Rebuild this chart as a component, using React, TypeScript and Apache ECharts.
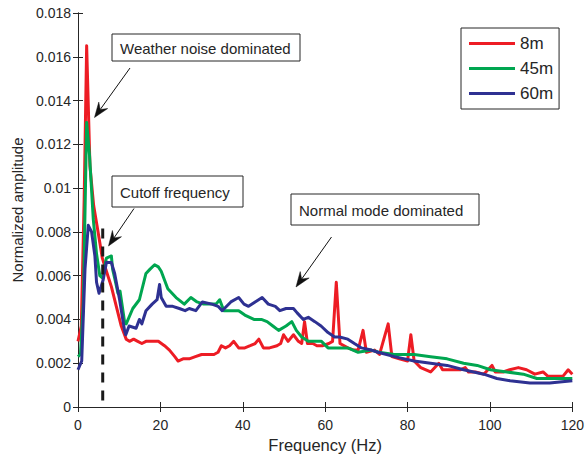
import React, { useEffect, useRef } from "react";
import * as echarts from "echarts";

const FONT = "'Liberation Sans', Arial, Helvetica, sans-serif";
const TEXT = "#262626";

const seriesNames = ["8m", "45m", "60m"];
const seriesColors = ["#ED1C24", "#00A650", "#2E3192"];

const xTicks = { min: 0, max: 120, interval: 20 };
const yTicks = { min: 0, max: 0.018, interval: 0.002 };

const cutoffFreq = 6;
const cutoffRange = [0.0003, 0.0083];

const amp8m: [number, number][] = [
  [0, 0.0030], [0.8, 0.0037], [1.5, 0.0095], [2.1, 0.0165], [2.9, 0.0110], [3.8, 0.0092],
  [4.6, 0.0083], [5.3, 0.0075], [5.9, 0.0068], [6.9, 0.0062], [8.1, 0.0055], [9.3, 0.0046],
  [10.5, 0.0037], [11.7, 0.0031], [12.5, 0.0030], [13.5, 0.0031], [14.5, 0.0030], [15.5, 0.0029],
  [16.5, 0.0030], [18, 0.0030], [19.5, 0.0030], [21, 0.0028], [22.2, 0.0026], [23.5, 0.0023],
  [24.3, 0.0021], [25.5, 0.0022], [27, 0.0022], [28.5, 0.0023], [30, 0.0024], [31.5, 0.0024],
  [33, 0.0024], [34, 0.0025], [34.8, 0.0028], [35.8, 0.0027], [36.8, 0.0028], [37.8, 0.0030],
  [39, 0.0027], [40.5, 0.0027], [41.8, 0.0028], [43, 0.0029], [43.9, 0.0031], [45, 0.0027],
  [46.5, 0.0027], [48.3, 0.0028], [49.2, 0.0029], [49.9, 0.0033], [51, 0.0030], [52.3, 0.0033],
  [53.5, 0.0030], [54.3, 0.0029], [55, 0.0039], [55.7, 0.0029], [57, 0.0029], [58, 0.0028],
  [59.3, 0.0028], [60.9, 0.0029], [61.8, 0.0030], [62.7, 0.0057], [63.6, 0.0029], [65.5, 0.0027],
  [67, 0.0026], [68, 0.0026], [69.2, 0.0035], [70, 0.0025], [72, 0.0026], [73.2, 0.0024],
  [74.4, 0.0032], [75.3, 0.0038], [76.2, 0.0023], [78, 0.0022], [80, 0.0021], [80.8, 0.0033],
  [81.6, 0.0021], [83.2, 0.0018], [85.6, 0.0016], [87.6, 0.0020], [88.5, 0.0017], [90, 0.0017],
  [92.8, 0.0017], [94, 0.0018], [94.8, 0.0016], [96.5, 0.0016], [98.5, 0.0015], [100.5, 0.0019],
  [101.3, 0.0016], [103.2, 0.0016], [104.8, 0.0017], [106.9, 0.0018], [108.9, 0.0017],
  [110.9, 0.0015], [112.9, 0.0016], [114.1, 0.0014], [116, 0.0014], [117.7, 0.0014],
  [119, 0.0017], [120, 0.0015],
];

const amp45m: [number, number][] = [
  [0, 0.0023], [0.6, 0.0024], [1.3, 0.0048], [2.1, 0.0130], [2.8, 0.0115], [3.7, 0.0086],
  [4.5, 0.0070], [5.3, 0.0060], [5.9, 0.0059], [6.9, 0.0068], [8.1, 0.0069], [8.4, 0.0063],
  [9.0, 0.0058], [9.7, 0.0052], [10.2, 0.0053], [11.3, 0.0039], [11.7, 0.0038], [13.3, 0.0045],
  [14.9, 0.0049], [16.5, 0.0061], [17.5, 0.0063], [18.6, 0.0065], [19.5, 0.0064], [20.2, 0.0062],
  [21.8, 0.0054], [23.8, 0.0050], [25.8, 0.0047], [27.4, 0.0050], [28.9, 0.0048], [30.5, 0.0047],
  [32, 0.0047], [33.5, 0.0047], [34.4, 0.0049], [35.4, 0.0044], [37, 0.0044], [39, 0.0044],
  [40.5, 0.0042], [42.7, 0.0040], [44.5, 0.0040], [45.9, 0.0039], [47.3, 0.0037], [48.7, 0.0035],
  [50.5, 0.0037], [51.9, 0.0039], [53, 0.0035], [54.3, 0.0032], [55.9, 0.0030], [57.5, 0.0030],
  [59.1, 0.0030], [60.7, 0.0027], [63, 0.0027], [65.5, 0.0027], [68, 0.0025], [71.2, 0.0026],
  [73, 0.0025], [76.8, 0.0024], [81.6, 0.0024], [85.6, 0.0023], [89.6, 0.0022], [93.6, 0.0020],
  [96.9, 0.0019], [100.1, 0.0017], [104.1, 0.0016], [108.1, 0.0015], [111.4, 0.0013],
  [115.4, 0.0013], [120, 0.0013],
];

const amp60m: [number, number][] = [
  [0, 0.0017], [0.9, 0.0021], [1.7, 0.0063], [2.5, 0.0083], [3.3, 0.0080], [4.1, 0.0069],
  [4.5, 0.0057], [5.1, 0.0052], [6.1, 0.0058], [6.9, 0.0066], [8.1, 0.0066], [8.9, 0.0061],
  [10.1, 0.0049], [11.3, 0.0035], [11.6, 0.0033], [12.4, 0.0037], [14.1, 0.0036], [14.9, 0.0040],
  [15.5, 0.0038], [16.5, 0.0044], [18, 0.0047], [19.2, 0.0049], [19.8, 0.0056], [20.2, 0.0050],
  [21.4, 0.0046], [23, 0.0046], [24.6, 0.0045], [26, 0.0044], [27, 0.0045], [28.6, 0.0044],
  [30.2, 0.0048], [32.5, 0.0047], [34, 0.0046], [35, 0.0044], [37.1, 0.0048], [39, 0.0050],
  [40.3, 0.0047], [41.4, 0.0046], [43, 0.0048], [44.7, 0.0050], [46.2, 0.0047], [47.9, 0.0046],
  [49, 0.0044], [50.5, 0.0045], [52.3, 0.0045], [53.2, 0.0043], [54.7, 0.0040], [55.9, 0.0041],
  [57.5, 0.0039], [59, 0.0037], [60.7, 0.0034], [62.3, 0.0032], [63.5, 0.0032], [65.5, 0.0031],
  [67.1, 0.0029], [68.8, 0.0027], [71.2, 0.0026], [72.8, 0.0025], [76.8, 0.0023], [81.6, 0.0021],
  [85.6, 0.0020], [89.6, 0.0019], [93.6, 0.0017], [98.5, 0.0015], [101.7, 0.0013],
  [104.9, 0.0012], [109.7, 0.0011], [114.5, 0.0011], [120, 0.0012],
];

const seriesData = [amp8m, amp45m, amp60m];

const annotations = [
  { text: "Weather noise dominated", box: [112, 34, 188, 27], arrow: [130, 68, 94.5, 117.5] },
  { text: "Cutoff frequency", box: [112, 176, 131, 31], arrow: [134, 208.5, 108.5, 246] },
  { text: "Normal mode dominated", box: [291, 194, 188, 31], arrow: [331.5, 237, 296, 287] },
];

function arrowGraphics(x1: number, y1: number, x2: number, y2: number) {
  const dx = x2 - x1;
  const dy = y2 - y1;
  const len = Math.sqrt(dx * dx + dy * dy);
  const ux = dx / len;
  const uy = dy / len;
  const nx = -uy;
  const ny = ux;
  const L = 15;
  const W = 5.5;
  const bx = x2 - ux * L;
  const by = y2 - uy * L;
  const mx = x2 - ux * L * 0.65;
  const my = y2 - uy * L * 0.65;
  return [
    {
      type: "line",
      shape: { x1, y1, x2: mx, y2: my },
      style: { stroke: "#111", lineWidth: 1 },
      z: 100,
    },
    {
      type: "polygon",
      shape: {
        points: [
          [x2, y2],
          [bx + nx * W, by + ny * W],
          [mx, my],
          [bx - nx * W, by - ny * W],
        ],
      },
      style: { fill: "#111", stroke: "#111", lineWidth: 0.5 },
      z: 100,
    },
  ];
}

export default function App() {
  const ref = useRef<HTMLDivElement>(null);

  useEffect(() => {
    document.body.style.margin = "0";
    if (!ref.current) return;
    const chart = echarts.init(ref.current, null, { renderer: "svg" });

    const axisLineStyle = { show: true, lineStyle: { color: TEXT, width: 1 } };
    const tickStyle = { show: true, inside: true, length: 5, lineStyle: { color: TEXT, width: 1 } };

    const graphics: any[] = [];
    annotations.forEach((a) => {
      const [bx, by, bw, bh] = a.box;
      graphics.push({
        type: "rect",
        shape: { x: bx, y: by, width: bw, height: bh },
        style: { fill: "#fff", stroke: TEXT, lineWidth: 1 },
        z: 100,
      });
      graphics.push({
        type: "text",
        x: bx + 8,
        y: by + bh / 2 + 0.5,
        style: {
          text: a.text,
          fontSize: 15,
          fontFamily: FONT,
          fill: TEXT,
          verticalAlign: "middle",
          align: "left",
        },
        z: 101,
      });
      const [x1, y1, x2, y2] = a.arrow;
      graphics.push(...arrowGraphics(x1, y1, x2, y2));
    });

    const option: any = {
      animation: false,
      backgroundColor: "#fff",
      textStyle: { fontFamily: FONT },
      grid: { left: 78, right: 11, top: 13, bottom: 52, containLabel: false },
      legend: {
        data: seriesNames,
        orient: "vertical",
        align: "left",
        left: 461,
        top: 28,
        icon: "rect",
        itemWidth: 46,
        itemHeight: 3,
        itemGap: 8,
        padding: [7, 6, 7, 8],
        borderColor: TEXT,
        borderWidth: 1,
        backgroundColor: "#fff",
        textStyle: { fontSize: 17, color: TEXT, fontFamily: FONT },
      },
      xAxis: [
        {
          type: "value",
          ...xTicks,
          position: "bottom",
          name: "Frequency (Hz)",
          nameLocation: "middle",
          nameGap: 29,
          nameTextStyle: { fontSize: 16.5, color: TEXT, fontFamily: FONT },
          axisLine: axisLineStyle,
          axisTick: tickStyle,
          splitLine: { show: false },
          axisLabel: { fontSize: 14, color: TEXT, margin: 11, fontFamily: FONT },
        },
        {
          type: "value",
          ...xTicks,
          position: "top",
          axisLine: axisLineStyle,
          axisTick: tickStyle,
          splitLine: { show: false },
          axisLabel: { show: false },
        },
      ],
      yAxis: [
        {
          type: "value",
          ...yTicks,
          position: "left",
          name: "Normalized amplitude",
          nameLocation: "middle",
          nameGap: 53,
          nameRotate: 90,
          nameTextStyle: { fontSize: 15, color: TEXT, fontFamily: FONT },
          axisLine: axisLineStyle,
          axisTick: tickStyle,
          splitLine: { show: false },
          axisLabel: {
            fontSize: 14,
            color: TEXT,
            margin: 7,
            fontFamily: FONT,
            formatter: (v: number) => String(parseFloat(v.toFixed(4))),
          },
        },
        {
          type: "value",
          ...yTicks,
          position: "right",
          axisLine: axisLineStyle,
          axisTick: tickStyle,
          splitLine: { show: false },
          axisLabel: { show: false },
        },
      ],
      series: [
        ...seriesNames.map((name, i) => ({
          name,
          type: "line",
          xAxisIndex: 0,
          yAxisIndex: 0,
          data: seriesData[i],
          showSymbol: false,
          symbol: "none",
          lineStyle: { color: seriesColors[i], width: 3, join: "round" },
          itemStyle: { color: seriesColors[i] },
          z: 2 + i,
        })),
        {
          name: "cutoff",
          type: "line",
          xAxisIndex: 0,
          yAxisIndex: 0,
          data: [
            [cutoffFreq, cutoffRange[0]],
            [cutoffFreq, cutoffRange[1]],
          ],
          symbol: "none",
          lineStyle: { color: "#1a1a1a", width: 3, type: [10, 8] },
          z: 10,
        },
      ],
      graphic: graphics,
    };

    chart.setOption(option);
    return () => chart.dispose();
  }, []);

  return <div ref={ref} style={{ width: 587, height: 459 }} />;
}
